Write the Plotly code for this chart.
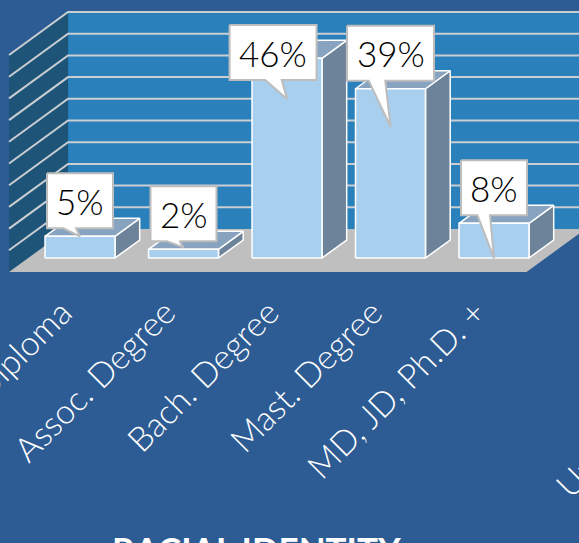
import plotly.graph_objects as go

# ---------------- data ----------------
categories = ["HS Diploma", "Assoc. Degree", "Bach. Degree", "Mast. Degree", "MD, JD, Ph.D. +"]
values = [5, 2, 46, 39, 8]
value_labels = ["5%", "2%", "46%", "39%", "8%"]
grid_values = [5, 10, 15, 20, 25, 30, 35, 40, 45, 50]
next_title = "RACIAL IDENTITY"
cut_label = "Unknown"

# ---------------- layout / style ----------------
W, H = 579, 543
PLOT_BOTTOM = 280                 # px, bottom of plot area
X_RANGE = [-0.7729, 4.8213]
Y_RANGE = [-5.069, 59.447]
PX_X = W / (X_RANGE[1] - X_RANGE[0])
PX_Y = PLOT_BOTTOM / (Y_RANGE[1] - Y_RANGE[0])

DEPTH_PX = (59, 43)               # oblique depth vector of the floor (right, up)
DDX = DEPTH_PX[0] / PX_X
DDY = DEPTH_PX[1] / PX_Y
D0 = 14 / 43                      # bar front plane depth
D1 = 32 / 43                      # bar back plane depth
HALF_W = 0.338
X_MIN, X_MAX = -0.5, len(categories) - 0.5
Y_MAX = max(grid_values)

BG = "#2D5B93"
BACK_WALL = "#2A80BA"
LEFT_WALL = "#1E5478"
GRID = "#C9CED3"
FLOOR = "#BFBFBF"
BAR_FRONT = "#A9CFEF"
BAR_TOP = "#88A3BF"
BAR_SIDE = "#6D8399"
EDGE = "#FFFFFF"
CALLOUT_LINE = "#BDBDBD"
FONT = "Lato"

BOX_H = 55
BOX_GAP = 8
BOX_TOP_LIMIT = 25
TAIL_LEN = [8, 6, 19, 46, 43]


def proj(x, y, d):
    return x + (d - D0) * DDX, y + (d - D0) * DDY


def to_px(x, y):
    return (x - X_RANGE[0]) * PX_X, (Y_RANGE[1] - y) * PX_Y


def from_px(px, py):
    return X_RANGE[0] + px / PX_X, Y_RANGE[1] - py / PX_Y


def poly(points, fill, line_color=None, line_width=0):
    xs = [p[0] for p in points] + [points[0][0]]
    ys = [p[1] for p in points] + [points[0][1]]
    return go.Scatter(
        x=xs, y=ys, mode="lines", fill="toself", fillcolor=fill,
        line=dict(color=line_color or fill, width=line_width if line_color else 0),
        hoverinfo="skip", showlegend=False,
    )


fig = go.Figure()

# walls
back = [proj(X_MIN, 0, 1), proj(X_MAX, 0, 1), proj(X_MAX, Y_MAX, 1), proj(X_MIN, Y_MAX, 1)]
left = [proj(X_MIN, 0, 0), proj(X_MIN, 0, 1), proj(X_MIN, Y_MAX, 1), proj(X_MIN, Y_MAX, 0)]
fig.add_trace(poly(back, BACK_WALL))
fig.add_trace(poly(left, LEFT_WALL))

# gridlines
gx, gy = [], []
for g in grid_values:
    for pt in (proj(X_MIN, g, 0), proj(X_MIN, g, 1), proj(X_MAX + 0.3, g, 1)):
        gx.append(pt[0]); gy.append(pt[1])
    gx.append(None); gy.append(None)
fig.add_trace(go.Scatter(x=gx, y=gy, mode="lines", line=dict(color=GRID, width=2),
                         hoverinfo="skip", showlegend=False))

# floor
floor = [proj(X_MIN, 0, 0), proj(X_MAX, 0, 0), proj(X_MAX, 0, 1), proj(X_MIN, 0, 1)]
fig.add_trace(poly(floor, FLOOR))

# bars
for i, v in enumerate(values):
    l, r = i - HALF_W, i + HALF_W
    side = [proj(r, 0, D0), proj(r, 0, D1), proj(r, v, D1), proj(r, v, D0)]
    top = [proj(l, v, D0), proj(r, v, D0), proj(r, v, D1), proj(l, v, D1)]
    front = [proj(l, 0, D0), proj(r, 0, D0), proj(r, v, D0), proj(l, v, D0)]
    fig.add_trace(poly(side, BAR_SIDE, EDGE, 1.5))
    fig.add_trace(poly(top, BAR_TOP, EDGE, 1.5))
    fig.add_trace(poly(front, BAR_FRONT, EDGE, 1.5))

# callouts
annotations = []
for i, (v, lab) in enumerate(zip(values, value_labels)):
    bw = 24 + 21 * len(lab)
    cx_px, top_py = to_px(i, v)
    bottom = top_py - BOX_GAP
    shift = 0
    if bottom - BOX_H < BOX_TOP_LIMIT:
        bottom = BOX_TOP_LIMIT + BOX_H
        shift = -0.16 * bw
    bx = cx_px + shift
    L, R, T, B = bx - bw / 2, bx + bw / 2, bottom - BOX_H, bottom
    tip = (cx_px, B + TAIL_LEN[i])
    b1 = max(L + 3, min(R - 3, tip[0] - 0.25 * bw))
    b2 = max(L + 3, min(R - 3, tip[0] - 0.06 * bw))
    pts_px = [(L, T), (R, T), (R, B), (b2, B), tip, (b1, B), (L, B)]
    pts = [from_px(*p) for p in pts_px]
    fig.add_trace(poly(pts, "#FFFFFF", CALLOUT_LINE, 2))
    ax, ay = from_px(bx, (T + B) / 2)
    annotations.append(dict(x=ax, y=ay, xref="x", yref="y", text=lab, showarrow=False,
                            font=dict(family=FONT, size=35, color="black", weight=300),
                            xanchor="center", yanchor="middle"))

# cut-off texts from the slide
annotations.append(dict(x=256 / W, y=1 - 526 / PLOT_BOTTOM, xref="paper", yref="paper",
                        text="<b>" + next_title + "</b>", showarrow=False,
                        font=dict(family=FONT, size=35, color="white"),
                        xanchor="center", yanchor="top"))
annotations.append(dict(x=544 / W, y=1 - 508 / PLOT_BOTTOM, xref="paper", yref="paper",
                        text=cut_label, showarrow=False, textangle=-45,
                        font=dict(family=FONT, size=34, color="white", weight=300),
                        xanchor="left", yanchor="bottom"))

fig.update_layout(
    width=W, height=H,
    margin=dict(l=0, r=0, t=0, b=H - PLOT_BOTTOM, pad=0, autoexpand=False),
    paper_bgcolor=BG, plot_bgcolor=BG,
    showlegend=False,
    xaxis=dict(range=X_RANGE, tickmode="array", tickvals=list(range(len(categories))),
               ticktext=categories, tickangle=-45, showgrid=False, zeroline=False,
               showline=False, ticks="", ticklabelstandoff=5, ticklabelshift=-18,
               ticklabeloverflow="allow", automargin=False,
               tickfont=dict(family=FONT, size=34, color="white", weight=300),
               fixedrange=True),
    yaxis=dict(range=Y_RANGE, visible=False, fixedrange=True, automargin=False),
    annotations=annotations,
)

fig.write_html("out.html", config={"displayModeBar": False},
               post_script="document.body.style.margin='0';")
